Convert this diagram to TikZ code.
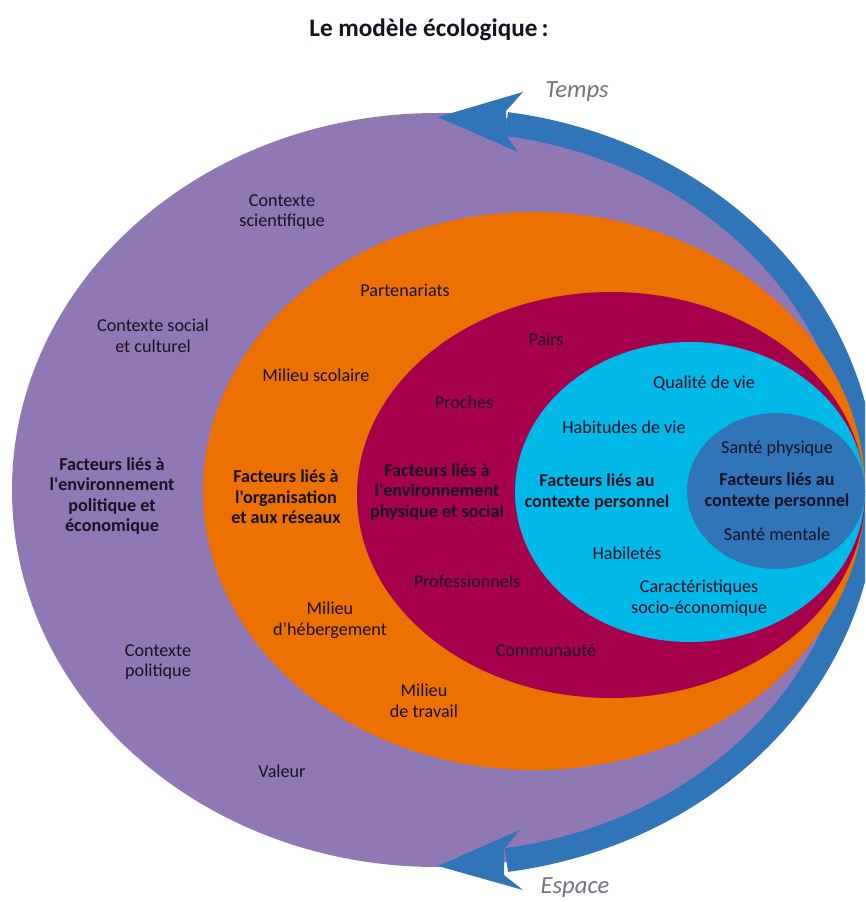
\documentclass[tikz,border=0pt]{standalone}
\usepackage{fontspec}
\setmainfont{Carlito}[Ligatures=TeXOff]
\definecolor{purpleZone}{RGB}{143,120,179}
\definecolor{orangeZone}{RGB}{237,113,0}
\definecolor{crimsonZone}{RGB}{166,0,76}
\definecolor{cyanZone}{RGB}{0,185,233}
\definecolor{blueZone}{RGB}{47,117,184}
\definecolor{labelText}{RGB}{22,18,34}
\definecolor{axisText}{RGB}{115,115,125}
\begin{document}
\begin{tikzpicture}[x=0.03cm, y=-0.03cm,
    lbl/.style={align=center, text=labelText, font=\fontsize{15.5}{17.5}\selectfont},
    key/.style={lbl, font=\fontsize{15.5}{17.5}\selectfont\bfseries},
    axis/.style={text=axisText, font=\fontsize{21}{24}\selectfont\itshape}]
    \fill[white] (0,0) rectangle (865,902);
    \useasboundingbox (0,0) rectangle (865,902);
    \clip (0,0) rectangle (865,902);
    \node[font=\fontsize{21.5}{24}\selectfont\bfseries, text=labelText] (title) at (429,30) {Le modèle écologique\,:};
    % zones, outside in
    \fill[purpleZone] (437,490) ellipse[x radius=425, y radius=377];
    \draw[blueZone, line width=0.72cm] plot[domain=81.6:-81.6, samples=90, smooth]
        ({445+420*cos(\x)}, {492-372*sin(\x)});
    \fill[blueZone] (438,117) -- (523,92) -- (506,111) -- (506,135) -- (518,152) -- cycle;
    \fill[blueZone] (438,866) -- (520,830) -- (504,849) -- (504,875) -- (523,890) -- cycle;
    \fill[orangeZone] (534,491) ellipse[x radius=331, y radius=279];
    \fill[crimsonZone] (611,495) ellipse[x radius=254, y radius=203];
    \fill[cyanZone] (690,492) ellipse[x radius=175, y radius=150];
    \fill[blueZone] (776,491) ellipse[x radius=89, y radius=78];
    \node[axis] (temps) at (577,92) {Temps};
    \node[axis] (espace) at (575,888) {Espace};
    % politique
    \node[lbl] (scient) at (282,212) {Contexte\\scientifique};
    \node[lbl] (social) at (153,336) {Contexte social\\et culturel};
    \node[key] (polit) at (112,496) {Facteurs liés à\\l'environnement\\politique et\\économique};
    \node[lbl] (cpolit) at (158,662) {Contexte\\politique};
    \node[lbl] (valeur) at (282,771) {Valeur};
    % organisation
    \node[lbl] (parten) at (405,290) {Partenariats};
    \node[lbl] (scol) at (316,375) {Milieu scolaire};
    \node[key] (orga) at (286,497) {Facteurs liés à\\l'organisation\\et aux réseaux};
    \node[lbl] (heberg) at (330,620) {Milieu\\d’hébergement};
    \node[lbl] (travail) at (424,701) {Milieu\\de travail};
    % physique et social
    \node[lbl] (pairs) at (546,339) {Pairs};
    \node[lbl] (proches) at (464,402) {Proches};
    \node[key] (phys) at (437,492) {Facteurs liés à\\l'environnement\\physique et social};
    \node[lbl] (profs) at (467,581) {Professionnels};
    \node[lbl] (commu) at (546,650) {Communauté};
    % personnel
    \node[lbl] (qualite) at (704,383) {Qualité de vie};
    \node[lbl] (habit) at (624,427) {Habitudes de vie};
    \node[key] (perso) at (597,492) {Facteurs liés au\\contexte personnel};
    \node[lbl] (habil) at (627,553) {Habiletés};
    \node[lbl] (socio) at (699,598) {Caractéristiques\\socio-économique};
    % sante
    \node[lbl] (sphys) at (777,449) {Santé physique};
    \node[key] (sante) at (777,491) {Facteurs liés au\\contexte personnel};
    \node[lbl] (sment) at (777,534) {Santé mentale};
\end{tikzpicture}
\end{document}
